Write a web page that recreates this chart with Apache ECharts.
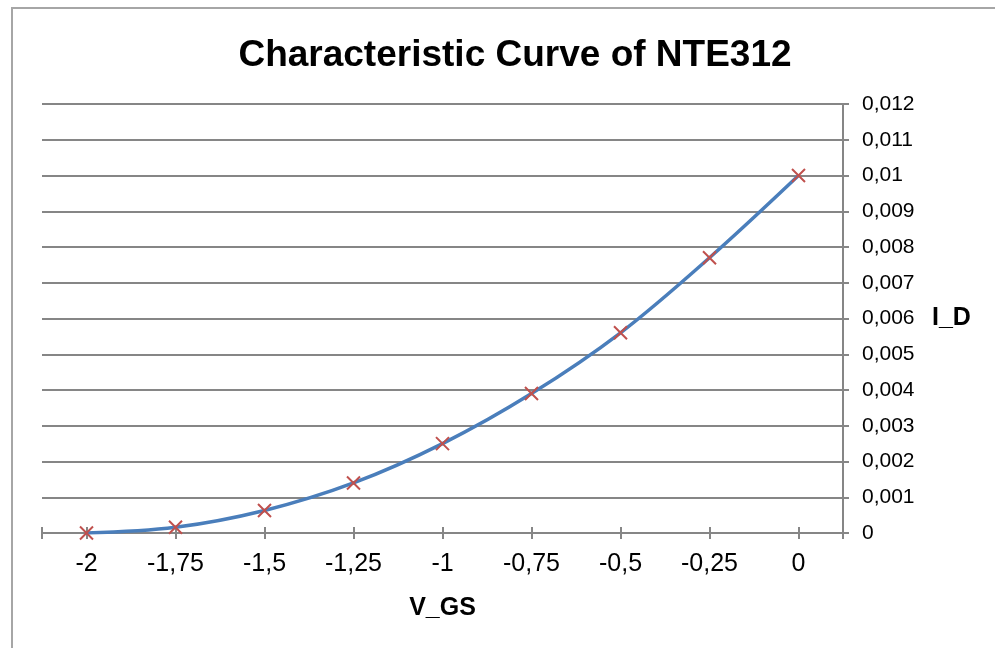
<!DOCTYPE html>
<html>
<head>
<meta charset="utf-8">
<script src="https://cdn.jsdelivr.net/npm/echarts@6/dist/echarts.min.js"></script>
<style>
html,body{margin:0;padding:0;background:#fff;overflow:hidden;}
#frame{position:absolute;left:11px;top:7px;width:1100px;height:800px;border:2px solid #a6a6a6;box-sizing:border-box;}
#chart{position:absolute;left:0;top:0;width:995px;height:648px;}
</style>
</head>
<body>
<div id="frame"></div>
<div id="chart"></div>
<script>
const titleText = 'Characteristic Curve of NTE312';
const categories = ['-2', '-1,75', '-1,5', '-1,25', '-1', '-0,75', '-0,5', '-0,25', '0'];
const idValues = [0, 0.00016, 0.00063, 0.0014, 0.0025, 0.0039, 0.0056, 0.0077, 0.01];
const yMin = 0, yMax = 0.012, yStep = 0.001;
const xName = 'V_GS';
const yName = 'I_D';

const gray = '#868686';
const font = '"Liberation Sans", Arial, sans-serif';
const chart = echarts.init(document.getElementById('chart'));

function fmt(v) {
  let s = v.toFixed(3).replace(/0+$/, '').replace(/\.$/, '');
  return s.replace('.', ',');
}

const capAxis = ['', ''];
chart.setOption({
  backgroundColor: 'transparent',
  animation: false,
  title: {
    text: titleText, left: 510, top: 32, textAlign: 'center',
    textStyle: { fontFamily: font, fontSize: 37, fontWeight: 'bold', color: '#000' }
  },
  grid: { left: 42, right: 152, top: 104, bottom: 115 },
  xAxis: [
    {
      type: 'category', data: categories, boundaryGap: true, position: 'bottom',
      name: xName, nameLocation: 'middle', nameGap: 63,
      nameTextStyle: { fontFamily: font, fontSize: 25, fontWeight: 'bold', color: '#000' },
      axisLine: { show: true, lineStyle: { color: gray, width: 2 } },
      axisTick: { show: true, alignWithLabel: true, inside: false, length: 6, lineStyle: { color: gray, width: 2 } },
      axisLabel: { fontFamily: font, fontSize: 25, color: '#000', margin: 19 },
      splitLine: { show: false }
    },
    {
      type: 'category', data: categories, boundaryGap: true, position: 'bottom',
      axisLine: { show: false },
      axisTick: { show: true, alignWithLabel: true, inside: true, length: 6, lineStyle: { color: gray, width: 2 } },
      axisLabel: { show: false }, splitLine: { show: false }
    },
    {
      type: 'category', data: capAxis, boundaryGap: false, position: 'bottom',
      axisLine: { show: false },
      axisTick: { show: true, inside: false, length: 6, lineStyle: { color: gray, width: 2 } },
      axisLabel: { show: false }, splitLine: { show: false }
    },
    {
      type: 'category', data: capAxis, boundaryGap: false, position: 'bottom',
      axisLine: { show: false },
      axisTick: { show: true, inside: true, length: 6, lineStyle: { color: gray, width: 2 } },
      axisLabel: { show: false }, splitLine: { show: false }
    }
  ],
  yAxis: {
    type: 'value', position: 'right', min: yMin, max: yMax, interval: yStep,
    name: yName, nameLocation: 'middle', nameRotate: 0, nameGap: 89,
    nameTextStyle: { fontFamily: font, fontSize: 25, fontWeight: 'bold', color: '#000', align: 'left' },
    axisLine: { show: true, lineStyle: { color: gray, width: 2 } },
    axisTick: { show: true, inside: false, length: 6, lineStyle: { color: gray, width: 2 } },
    axisLabel: { fontFamily: font, fontSize: 21, color: '#000', margin: 19, formatter: fmt },
    splitLine: { show: true, lineStyle: { color: gray, width: 2 } }
  },
  series: [{
    type: 'line', xAxisIndex: 0, data: idValues, smooth: 0.35,
    lineStyle: { color: '#4a7ebb', width: 3.5 },
    symbol: 'path://M0,0L10,10M10,0L0,10', symbolSize: 13,
    showAllSymbol: true,
    itemStyle: { color: 'rgba(0,0,0,0)', borderColor: '#c0504d', borderWidth: 2 },
    z: 3
  }]
});
</script>
</body>
</html>
